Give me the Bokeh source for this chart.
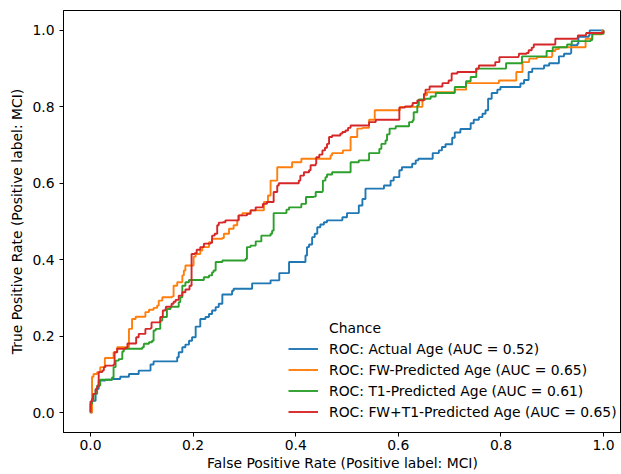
from bokeh.plotting import figure
from bokeh.models import Range1d, FixedTicker, NumeralTickFormatter, Legend, LegendItem
from bokeh.embed import file_html
from bokeh.resources import INLINE

# ---------------- data ----------------
ticks = [0.0, 0.2, 0.4, 0.6, 0.8, 1.0]
series_names = ["Actual Age", "FW-Predicted Age", "T1-Predicted Age", "FW+T1-Predicted Age"]
auc_values = [0.52, 0.65, 0.61, 0.65]
colors = ["#1f77b4", "#ff7f0e", "#2ca02c", "#d62728"]
chance_x = [0.0, 1.0]
chance_y = [0.0, 1.0]

actual_fpr = [
    0.0, 0.003, 0.010, 0.016, 0.029, 0.042, 0.058, 0.075, 0.094, 0.117,
    0.123, 0.166, 0.169, 0.172, 0.179, 0.185, 0.192, 0.198, 0.205, 0.214,
    0.224, 0.231, 0.237, 0.244, 0.250, 0.257, 0.276, 0.279, 0.315, 0.315,
    0.351, 0.368, 0.368, 0.387, 0.387, 0.416, 0.419, 0.422, 0.426, 0.432,
    0.437, 0.442, 0.448, 0.455, 0.461, 0.487, 0.491, 0.500, 0.523, 0.523,
    0.530, 0.536, 0.572, 0.572, 0.581, 0.585, 0.591, 0.601, 0.602, 0.607,
    0.624, 0.627, 0.634, 0.639, 0.667, 0.679, 0.685, 0.692, 0.704, 0.705,
    0.710, 0.721, 0.739, 0.741, 0.747, 0.757, 0.764, 0.770, 0.775, 0.782,
    0.793, 0.799, 0.835, 0.838, 0.845, 0.851, 0.854, 0.861, 0.880, 0.884,
    0.894, 0.913, 0.913, 0.923, 0.936, 0.937, 0.949, 0.951, 0.971, 0.973,
    1.0]
actual_tpr = [
    0.0, 0.031, 0.062, 0.084, 0.086, 0.088, 0.094, 0.101, 0.110, 0.126,
    0.134, 0.134, 0.145, 0.158, 0.171, 0.178, 0.188, 0.197, 0.225, 0.245,
    0.250, 0.258, 0.267, 0.276, 0.285, 0.309, 0.319, 0.324, 0.324, 0.338,
    0.346, 0.354, 0.365, 0.365, 0.394, 0.394, 0.411, 0.433, 0.440, 0.459,
    0.468, 0.485, 0.492, 0.498, 0.503, 0.503, 0.511, 0.522, 0.522, 0.542,
    0.559, 0.586, 0.586, 0.594, 0.594, 0.607, 0.616, 0.616, 0.634, 0.642,
    0.642, 0.651, 0.660, 0.664, 0.679, 0.686, 0.695, 0.702, 0.702, 0.719,
    0.733, 0.742, 0.742, 0.757, 0.766, 0.773, 0.782, 0.791, 0.821, 0.836,
    0.845, 0.852, 0.852, 0.861, 0.870, 0.870, 0.891, 0.900, 0.900, 0.908,
    0.914, 0.914, 0.932, 0.939, 0.941, 0.961, 0.965, 0.983, 0.987, 1.0,
    1.0]

fw_fpr = [
    0.0, 0.003, 0.006, 0.013, 0.019, 0.028, 0.042, 0.045, 0.052, 0.068,
    0.075, 0.081, 0.088, 0.104, 0.107, 0.114, 0.123, 0.130, 0.133, 0.140,
    0.159, 0.162, 0.169, 0.179, 0.182, 0.185, 0.198, 0.201, 0.205, 0.214,
    0.218, 0.231, 0.237, 0.257, 0.260, 0.270, 0.279, 0.286, 0.288, 0.296,
    0.312, 0.338, 0.346, 0.351, 0.362, 0.364, 0.392, 0.393, 0.409, 0.411,
    0.465, 0.468, 0.471, 0.489, 0.492, 0.505, 0.507, 0.517, 0.520, 0.530,
    0.543, 0.543, 0.552, 0.554, 0.601, 0.603, 0.645, 0.647, 0.650, 0.656,
    0.708, 0.710, 0.731, 0.732, 0.793, 0.796, 0.828, 0.830, 0.838, 0.842,
    0.852, 0.855, 0.870, 0.899, 0.900, 0.906, 0.913, 0.963, 0.965, 0.978,
    0.978, 0.997, 0.997, 1.0]
fw_tpr = [
    0.0, 0.094, 0.101, 0.106, 0.119, 0.143, 0.143, 0.158, 0.171, 0.171,
    0.219, 0.245, 0.251, 0.251, 0.263, 0.269, 0.274, 0.280, 0.293, 0.302,
    0.304, 0.332, 0.341, 0.359, 0.372, 0.385, 0.385, 0.408, 0.415, 0.424,
    0.433, 0.446, 0.455, 0.457, 0.468, 0.481, 0.490, 0.503, 0.516, 0.522,
    0.529, 0.551, 0.568, 0.607, 0.607, 0.642, 0.642, 0.655, 0.655, 0.664,
    0.664, 0.673, 0.679, 0.679, 0.686, 0.686, 0.721, 0.721, 0.743, 0.745,
    0.745, 0.766, 0.766, 0.791, 0.791, 0.800, 0.800, 0.817, 0.830, 0.838,
    0.838, 0.845, 0.845, 0.862, 0.862, 0.869, 0.869, 0.891, 0.891, 0.917,
    0.917, 0.926, 0.930, 0.932, 0.946, 0.951, 0.956, 0.956, 0.978, 0.978,
    0.990, 0.990, 1.0, 1.0]

t1_fpr = [
    0.0, 0.0, 0.003, 0.006, 0.013, 0.019, 0.039, 0.042, 0.045, 0.049,
    0.055, 0.062, 0.065, 0.097, 0.101, 0.104, 0.114, 0.120, 0.123, 0.127,
    0.133, 0.136, 0.140, 0.149, 0.156, 0.172, 0.175, 0.179, 0.185, 0.192,
    0.218, 0.221, 0.231, 0.237, 0.240, 0.244, 0.257, 0.302, 0.305, 0.312,
    0.322, 0.331, 0.333, 0.351, 0.354, 0.357, 0.380, 0.382, 0.387, 0.409,
    0.411, 0.420, 0.420, 0.435, 0.439, 0.452, 0.453, 0.458, 0.461, 0.471,
    0.507, 0.507, 0.523, 0.543, 0.543, 0.559, 0.563, 0.567, 0.575, 0.578,
    0.583, 0.595, 0.617, 0.621, 0.628, 0.630, 0.637, 0.640, 0.653, 0.663,
    0.673, 0.708, 0.710, 0.731, 0.732, 0.741, 0.750, 0.752, 0.809, 0.810,
    0.841, 0.841, 0.887, 0.889, 0.900, 0.901, 0.929, 0.938, 0.975, 0.978,
    1.0]
t1_tpr = [
    0.0, 0.023, 0.031, 0.049, 0.071, 0.086, 0.086, 0.092, 0.119, 0.136,
    0.140, 0.160, 0.167, 0.167, 0.171, 0.180, 0.184, 0.188, 0.215, 0.219,
    0.219, 0.241, 0.250, 0.271, 0.277, 0.289, 0.302, 0.332, 0.341, 0.347,
    0.347, 0.354, 0.359, 0.367, 0.372, 0.394, 0.398, 0.402, 0.433, 0.437,
    0.448, 0.448, 0.463, 0.468, 0.476, 0.522, 0.522, 0.531, 0.537, 0.537,
    0.546, 0.548, 0.564, 0.565, 0.577, 0.579, 0.607, 0.616, 0.623, 0.629,
    0.629, 0.655, 0.660, 0.660, 0.679, 0.679, 0.690, 0.703, 0.712, 0.728,
    0.743, 0.749, 0.749, 0.760, 0.765, 0.786, 0.804, 0.819, 0.821, 0.827,
    0.836, 0.836, 0.852, 0.853, 0.867, 0.878, 0.878, 0.900, 0.900, 0.914,
    0.914, 0.932, 0.932, 0.946, 0.946, 0.956, 0.963, 0.972, 0.975, 0.991,
    1.0]

fwt1_fpr = [
    0.0, 0.0, 0.003, 0.005, 0.010, 0.013, 0.016, 0.023, 0.026, 0.029,
    0.045, 0.047, 0.052, 0.068, 0.072, 0.088, 0.089, 0.094, 0.107, 0.117,
    0.119, 0.133, 0.136, 0.141, 0.146, 0.147, 0.158, 0.162, 0.166, 0.172,
    0.179, 0.185, 0.193, 0.197, 0.203, 0.207, 0.214, 0.221, 0.234, 0.237,
    0.242, 0.247, 0.250, 0.258, 0.263, 0.279, 0.289, 0.305, 0.312, 0.322,
    0.336, 0.344, 0.357, 0.364, 0.367, 0.403, 0.406, 0.409, 0.416, 0.426,
    0.429, 0.439, 0.440, 0.446, 0.452, 0.457, 0.461, 0.465, 0.471, 0.487,
    0.491, 0.497, 0.502, 0.507, 0.541, 0.543, 0.556, 0.598, 0.602, 0.613,
    0.625, 0.628, 0.637, 0.647, 0.650, 0.653, 0.661, 0.682, 0.686, 0.696,
    0.698, 0.704, 0.704, 0.715, 0.750, 0.752, 0.757, 0.786, 0.789, 0.797,
    0.834, 0.835, 0.850, 0.854, 0.860, 0.864, 0.905, 0.906, 0.949, 0.950,
    0.965, 0.966, 1.0, 1.0]
fwt1_tpr = [
    0.0, 0.029, 0.036, 0.049, 0.060, 0.068, 0.106, 0.110, 0.119, 0.123,
    0.126, 0.158, 0.167, 0.169, 0.181, 0.181, 0.197, 0.206, 0.219, 0.221,
    0.236, 0.236, 0.250, 0.267, 0.271, 0.277, 0.285, 0.290, 0.295, 0.306,
    0.315, 0.322, 0.332, 0.415, 0.417, 0.426, 0.433, 0.442, 0.444, 0.463,
    0.468, 0.490, 0.497, 0.498, 0.503, 0.503, 0.516, 0.520, 0.529, 0.537,
    0.546, 0.551, 0.577, 0.594, 0.600, 0.600, 0.607, 0.620, 0.629, 0.634,
    0.647, 0.651, 0.668, 0.675, 0.686, 0.693, 0.703, 0.721, 0.725, 0.730,
    0.734, 0.738, 0.745, 0.751, 0.751, 0.760, 0.766, 0.766, 0.798, 0.801,
    0.803, 0.810, 0.817, 0.817, 0.834, 0.845, 0.853, 0.853, 0.862, 0.862,
    0.869, 0.869, 0.887, 0.891, 0.891, 0.900, 0.908, 0.908, 0.917, 0.930,
    0.932, 0.939, 0.941, 0.948, 0.955, 0.963, 0.963, 0.978, 0.981, 0.987,
    0.987, 0.993, 0.994, 1.0]

curves = [(actual_fpr, actual_tpr), (fw_fpr, fw_tpr), (t1_fpr, t1_tpr), (fwt1_fpr, fwt1_tpr)]

# ---------------- figure ----------------
FONT = "DejaVu Sans"
FS = "13.9px"

p = figure(width=621, height=474, output_backend="svg", toolbar_location=None,
           x_range=Range1d(-0.0526, 1.035), y_range=Range1d(-0.052, 1.052),
           min_border_left=63, min_border_right=0, min_border_top=10, min_border_bottom=42)
p.background_fill_color = "white"
p.border_fill_color = "white"
p.outline_line_color = "black"
p.outline_line_width = 1
p.grid.visible = False

p.xaxis.axis_label = "False Positive Rate (Positive label: MCI)"
p.yaxis.axis_label = "True Positive Rate (Positive label: MCI)"
for ax in (p.xaxis[0], p.yaxis[0]):
    ax.ticker = FixedTicker(ticks=ticks)
    ax.formatter = NumeralTickFormatter(format="0.0")
    ax.axis_line_color = "black"
    ax.major_tick_line_color = "black"
    ax.major_tick_out = 4
    ax.major_tick_in = 0
    ax.minor_tick_line_color = None
    ax.major_label_text_font = FONT
    ax.major_label_text_font_size = FS
    ax.major_label_text_color = "black"
    ax.axis_label_text_font = FONT
    ax.axis_label_text_font_size = FS
    ax.axis_label_text_font_style = "normal"
    ax.axis_label_text_color = "black"
p.xaxis.major_label_standoff = 3
p.xaxis.axis_label_standoff = 2
p.yaxis.major_label_standoff = 5
p.yaxis.axis_label_standoff = 4

chance = p.line(chance_x, chance_y, line_alpha=0, line_width=1.9)
items = [LegendItem(label="Chance", renderers=[chance])]
for (fx, ty), name, auc, col in zip(curves, series_names, auc_values, colors):
    r = p.step(fx, ty, mode="after", line_color=col, line_width=1.9)
    items.append(LegendItem(label=f"ROC: {name} (AUC = {auc:.2f})", renderers=[r]))

legend = Legend(items=items, location=(225, 10))
legend.padding = 0
legend.margin = 0
legend.spacing = 0
legend.glyph_width = 30
legend.glyph_height = 21
legend.label_height = 21
legend.label_standoff = 11
legend.label_text_font = FONT
legend.label_text_font_size = FS
legend.label_text_color = "black"
legend.border_line_alpha = 0
legend.background_fill_alpha = 0
p.add_layout(legend)

open("out.html", "w").write(file_html(p, INLINE))
